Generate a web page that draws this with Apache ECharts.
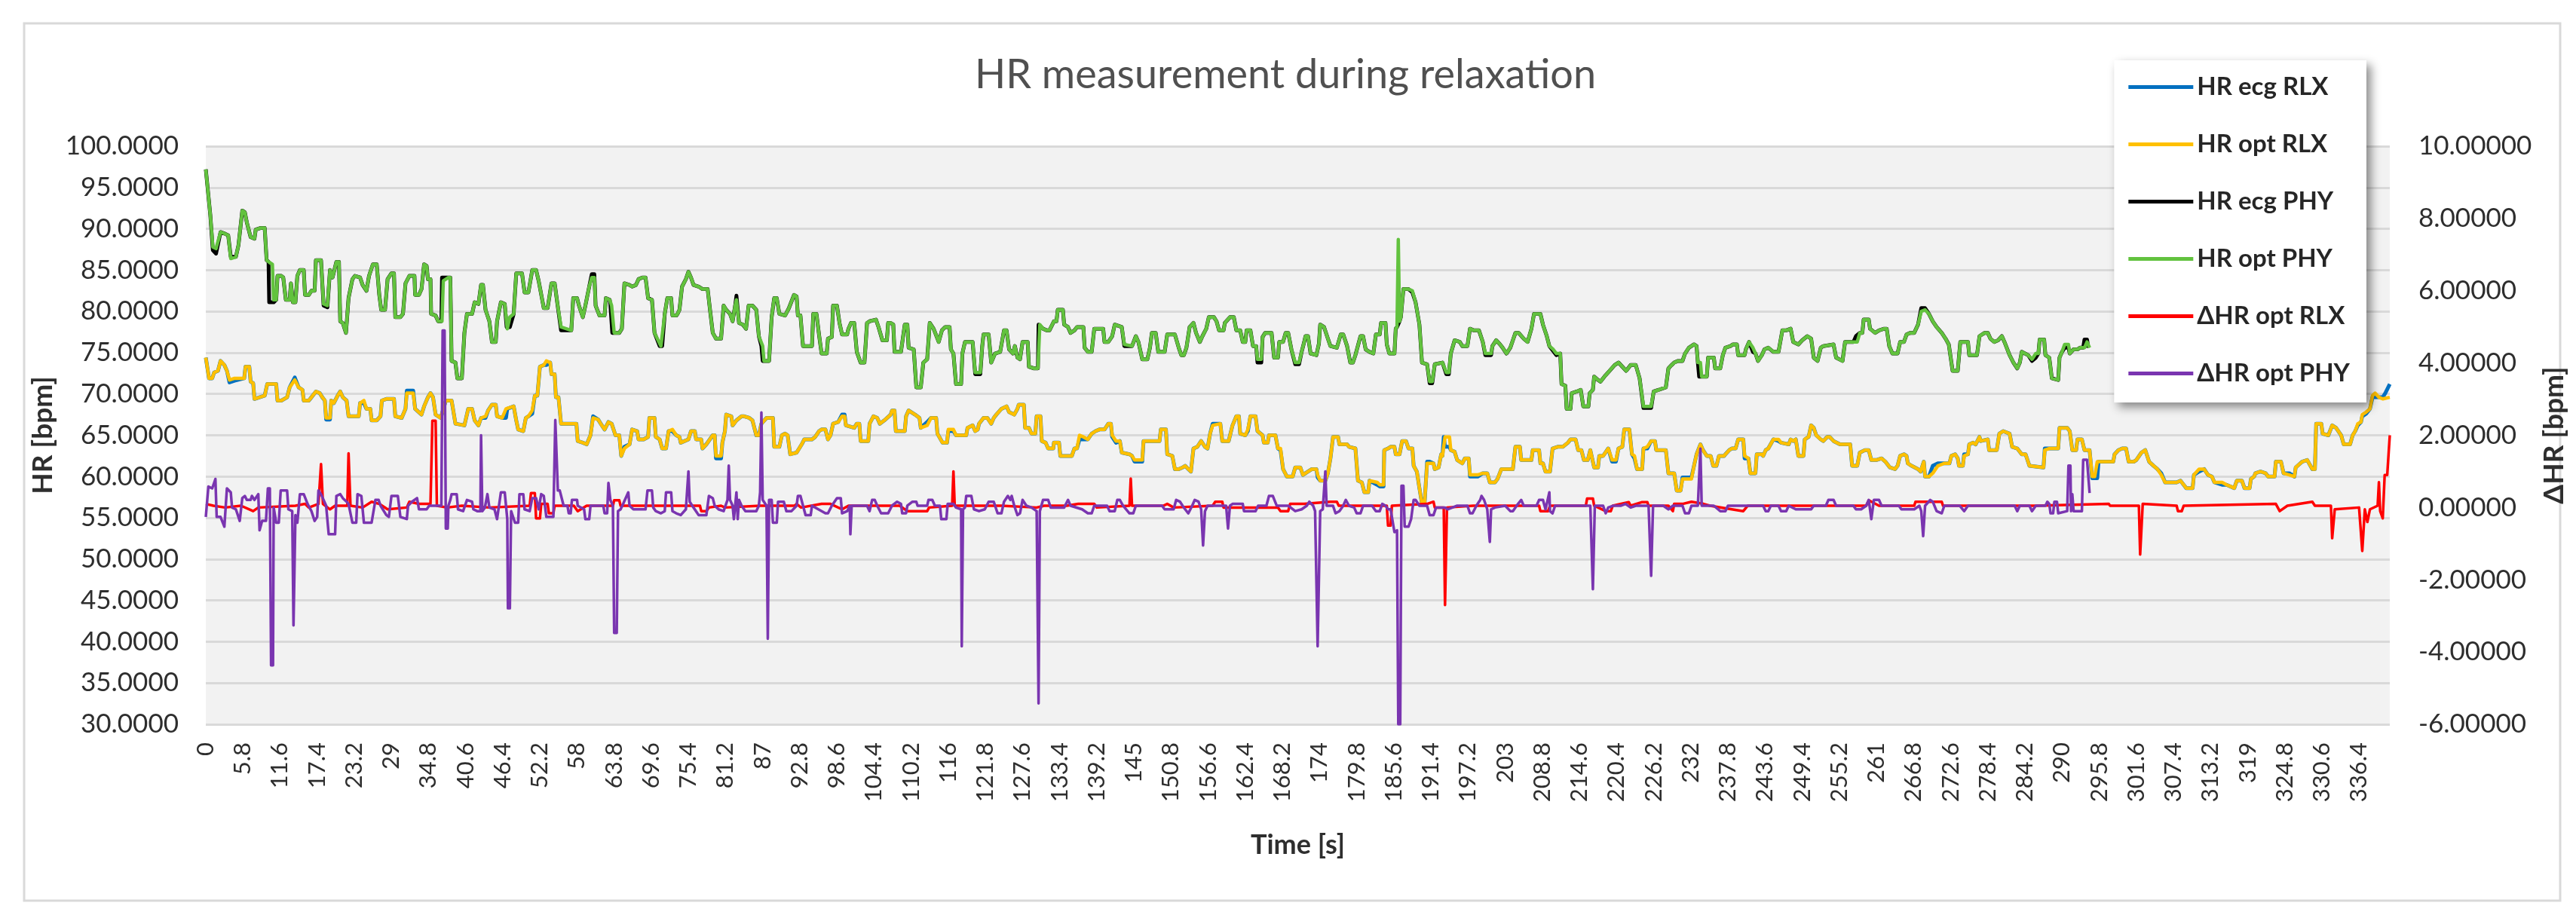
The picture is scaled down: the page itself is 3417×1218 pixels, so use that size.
<!DOCTYPE html>
<html><head><meta charset="utf-8">
<script src="https://cdn.jsdelivr.net/npm/echarts@6/dist/echarts.min.js"></script>
<style>html,body{margin:0;padding:0;background:#fff}#c{width:3417px;height:1218px}</style>
</head><body><div id="c"></div>
<script>
const chartTitle = 'HR measurement during relaxation';
const seriesNames = ['HR ecg RLX','HR opt RLX','HR ecg PHY','HR opt PHY','\u0394HR opt RLX','\u0394HR opt PHY'];
const seriesColors = ['#0070C0','#FFC000','#000000','#62C23E','#FF0000','#7A35B0'];
const xAxisTicks = {min:0, max:341.2, interval:5.8};
const leftAxisTicks = {min:30, max:100, interval:5};
const rightAxisTicks = {min:-6, max:10, interval:2};

// HR opt PHY  [time s, bpm]
const hrOptPhy = [[0,97.2],[0.7,91.7],[1.1,87.8],[1.6,87.6],[2.3,89.6],[3.0,89.4],[3.5,89.2],[3.9,86.4],[4.7,86.6],[5.1,88.0],[5.7,92.2],[6.1,92.0],[6.4,90.8],[7.0,89.0],[7.6,88.8],[7.8,89.9],[8.6,90.1],[9.2,90.1],[9.5,86.2],[10.0,85.9],[10.4,85.7],[10.6,81.4],[11.0,81.4],[11.2,84.3],[11.8,84.3],[12.1,84.1],[12.5,81.4],[13.1,81.4],[13.3,83.4],[13.6,81.1],[14.0,81.1],[14.3,84.3],[14.7,85.0],[15.3,85.0],[15.5,82.0],[16.1,82.0],[16.5,82.5],[17.0,82.5],[17.2,86.2],[18.0,86.2],[18.4,80.9],[19.0,80.7],[19.4,85.0],[19.8,84.1],[20.4,86.0],[20.8,86.0],[21.0,78.8],[21.4,78.6],[21.9,77.4],[22.1,77.4],[22.3,81.6],[22.9,83.9],[23.3,84.3],[24.1,84.1],[24.5,83.2],[25.1,82.5],[25.5,84.3],[26.1,85.7],[26.7,85.7],[27.1,82.0],[27.4,80.2],[28.0,80.2],[28.4,83.9],[29.0,84.6],[29.4,84.6],[29.6,79.3],[30.4,79.3],[30.8,79.7],[31.2,83.4],[31.8,84.3],[32.6,84.3],[32.7,82.0],[33.3,82.0],[33.7,82.7],[34.1,85.7],[34.5,85.5],[34.7,83.9],[35.1,83.9],[35.2,79.7],[35.9,79.5],[36.3,78.8],[36.9,78.8],[37.1,83.7],[37.9,84.1],[38.2,84.1],[38.4,74.0],[39.0,73.8],[39.3,71.9],[40.0,71.9],[40.4,77.4],[40.8,79.7],[41.6,79.7],[42.0,81.1],[42.6,80.9],[43.0,83.2],[43.3,83.2],[43.7,80.2],[44.3,78.8],[44.7,76.3],[45.3,76.3],[45.5,78.8],[46.1,81.1],[46.7,80.9],[47.1,77.9],[47.5,79.3],[48.1,79.7],[48.5,84.6],[49.4,84.6],[49.8,82.3],[50.4,82.3],[51.0,85.0],[51.6,85.0],[52.0,83.7],[52.8,80.4],[53.4,80.4],[54.0,83.4],[54.5,83.4],[54.9,81.1],[55.5,78.1],[57.1,77.7],[57.4,81.6],[58.0,81.6],[58.3,80.7],[58.9,79.3],[59.3,80.7],[59.9,83.0],[60.3,84.1],[60.7,84.1],[60.9,80.7],[61.5,79.5],[62.3,79.5],[62.5,81.6],[63.1,81.4],[63.4,80.7],[63.8,77.4],[64.6,77.4],[65.0,77.9],[65.4,83.4],[66.2,83.2],[66.6,83.0],[67.2,83.2],[67.6,83.9],[68.2,84.1],[68.7,84.1],[69.1,81.6],[69.7,81.4],[70.1,77.4],[71.1,75.8],[71.3,75.8],[71.7,79.7],[72.1,81.6],[72.7,81.6],[72.9,79.5],[73.5,79.5],[73.7,79.7],[74.0,80.2],[74.4,83.0],[75.0,83.9],[75.4,84.8],[75.8,84.1],[76.2,83.2],[77.0,83.0],[77.6,82.7],[78.4,82.7],[78.8,80.0],[79.2,77.4],[79.7,76.7],[80.5,76.7],[80.9,80.7],[81.3,80.2],[81.9,79.7],[82.3,78.8],[82.7,80.7],[82.9,81.4],[83.3,78.6],[83.9,78.4],[84.4,77.9],[84.8,80.7],[85.4,80.7],[86.0,80.2],[86.4,77.0],[87.0,75.8],[87.2,74.0],[88.0,74.0],[88.4,79.3],[88.8,81.6],[89.2,81.6],[89.6,79.7],[90.5,79.5],[91.1,80.4],[91.9,82.0],[92.3,81.8],[92.5,79.5],[92.9,79.5],[93.3,75.8],[94.7,75.8],[94.9,79.7],[95.4,79.7],[95.8,77.2],[96.2,74.9],[97.0,74.9],[97.2,76.7],[97.8,76.9],[98.0,80.7],[98.6,80.7],[99.0,78.6],[99.4,77.2],[100.2,77.2],[100.4,77.9],[100.8,78.6],[101.3,78.6],[101.7,75.1],[102.3,73.8],[102.9,73.8],[103.3,78.6],[103.7,78.8],[104.7,79.0],[105.1,78.1],[105.7,76.5],[106.4,76.5],[106.6,78.6],[107.0,78.6],[107.4,78.4],[107.6,75.1],[108.6,75.1],[109.2,78.4],[109.6,78.4],[109.8,75.6],[110.6,75.4],[111.0,70.8],[111.7,70.8],[112.1,73.8],[112.7,74.2],[113.1,78.6],[113.7,77.9],[114.5,76.3],[115.0,77.7],[115.5,78.1],[116.2,78.1],[116.4,75.4],[116.8,74.9],[117.2,71.2],[118.0,71.2],[118.2,74.9],[118.6,76.3],[119.8,76.3],[120.2,72.6],[121.0,72.6],[121.3,75.8],[121.5,77.2],[122.3,77.2],[122.7,73.8],[123.3,74.9],[124.1,75.1],[124.7,77.7],[125.1,77.7],[125.5,75.4],[126.1,74.9],[126.4,75.8],[126.8,74.4],[127.2,74.2],[127.6,76.3],[128.4,76.3],[128.6,73.3],[129.4,73.1],[130.0,73.1],[130.3,78.4],[130.8,77.9],[131.4,77.7],[131.8,77.7],[132.5,78.8],[132.9,78.8],[133.1,80.2],[133.9,80.2],[134.1,78.4],[134.7,78.1],[135.1,77.4],[135.7,77.7],[136.1,78.1],[137.1,78.1],[137.3,75.6],[137.8,75.1],[138.4,75.1],[138.8,77.9],[140.2,77.9],[140.4,76.3],[141.0,76.3],[141.6,77.0],[142.0,78.4],[143.1,78.1],[143.5,76.0],[144.7,75.8],[145.3,77.0],[145.7,76.3],[146.3,74.2],[147.1,74.2],[147.5,75.6],[147.8,77.4],[148.4,77.4],[148.8,75.1],[149.8,75.1],[150.2,77.2],[151.4,77.2],[152.0,75.6],[152.4,74.7],[152.8,74.7],[153.2,75.6],[153.7,78.1],[154.3,78.6],[154.7,77.4],[155.3,76.3],[155.7,77.0],[156.3,77.9],[156.7,79.3],[157.5,79.3],[157.9,78.8],[158.3,77.7],[159.0,77.7],[159.2,78.6],[160.0,79.3],[160.6,79.3],[161.0,77.7],[161.6,77.7],[162.0,76.3],[162.4,76.3],[162.6,77.7],[163.2,77.7],[163.6,75.8],[164.1,75.8],[164.3,74.2],[164.9,74.2],[165.1,76.9],[165.5,77.4],[166.5,77.4],[166.9,74.4],[167.5,74.4],[167.7,76.3],[168.3,76.3],[168.7,77.4],[169.1,77.4],[169.6,75.4],[170.2,73.8],[170.8,73.8],[171.2,75.1],[171.6,76.3],[171.8,77.0],[172.2,77.0],[172.6,74.9],[173.5,74.7],[173.9,76.1],[174.1,78.4],[174.7,78.1],[175.3,76.7],[175.7,75.8],[176.7,75.6],[177.3,77.2],[177.7,77.2],[178.3,75.8],[178.8,73.8],[179.2,73.8],[179.6,74.7],[180.4,77.0],[180.8,77.0],[181.2,75.4],[181.8,75.1],[182.4,74.9],[182.8,77.2],[183.4,77.2],[183.6,78.6],[184.3,78.6],[184.5,76.0],[184.9,74.9],[185.7,74.9],[185.9,77.9],[186.1,78.1],[186.3,88.7],[186.5,78.8],[186.7,79.3],[187.1,82.7],[187.9,82.7],[188.5,82.5],[189.0,81.1],[189.6,78.4],[190.0,73.8],[190.8,73.6],[191.2,71.5],[191.6,71.5],[192.0,73.6],[193.2,73.8],[193.8,72.6],[194.2,72.6],[194.5,74.9],[195.1,76.5],[195.9,76.3],[196.3,75.8],[197.1,75.8],[197.5,77.9],[198.1,77.7],[198.9,77.7],[199.5,76.3],[199.9,74.9],[200.8,74.9],[201.0,75.8],[201.6,76.5],[202.2,76.0],[202.6,75.6],[203.2,74.9],[203.8,75.6],[204.2,76.5],[204.6,77.4],[205.1,77.4],[205.9,76.7],[206.5,76.3],[207.1,77.9],[207.5,79.7],[208.5,79.7],[208.9,78.4],[209.5,77.0],[209.9,75.8],[210.5,75.4],[211.0,74.9],[211.6,74.9],[211.8,71.2],[212.4,71.0],[212.6,68.2],[213.2,68.2],[213.4,70.1],[214.2,70.3],[214.8,70.5],[215.2,68.5],[216.0,68.5],[216.2,70.1],[216.7,70.5],[216.9,72.1],[217.5,71.7],[217.9,71.5],[218.5,72.1],[219.3,72.8],[220.1,73.5],[220.7,73.8],[221.3,73.3],[221.9,72.8],[222.6,73.5],[223.4,73.5],[224.0,71.9],[224.6,68.5],[225.8,68.5],[226.2,70.3],[227.0,70.5],[228.1,70.8],[228.5,73.1],[229.0,73.5],[229.4,73.8],[230.0,74.0],[230.7,74.0],[231.1,74.9],[231.7,75.6],[232.5,76.0],[232.9,75.8],[233.1,73.8],[233.5,73.8],[233.7,72.1],[234.5,72.1],[234.7,74.4],[235.6,74.4],[235.8,73.1],[236.6,73.1],[237.0,74.7],[237.4,75.6],[238.2,75.8],[238.6,76.0],[239.2,76.0],[239.4,74.7],[240.4,74.7],[240.6,75.4],[241.1,76.3],[241.7,75.6],[242.1,74.9],[242.5,74.0],[243.1,74.7],[243.5,75.4],[244.1,75.6],[244.9,75.1],[245.7,75.1],[246.3,77.7],[246.9,77.7],[247.6,77.9],[248.0,76.3],[248.8,76.0],[249.4,76.5],[250.2,77.0],[250.8,76.7],[251.2,74.4],[251.8,74.0],[252.3,75.6],[252.7,75.8],[254.3,76.0],[254.7,74.4],[255.7,74.0],[256.1,76.3],[258.0,76.3],[258.4,77.4],[258.8,77.4],[259.0,79.0],[259.8,79.0],[260.0,77.9],[260.8,77.4],[261.4,77.7],[262.2,77.9],[262.6,77.9],[263.0,75.8],[263.5,74.9],[264.3,74.9],[264.7,76.3],[265.3,76.3],[265.7,77.2],[266.3,77.4],[266.9,77.4],[267.5,78.4],[268.0,80.0],[268.6,80.2],[269.2,79.7],[269.8,78.8],[270.4,78.1],[271.2,77.4],[271.8,76.7],[272.3,76.0],[272.9,72.8],[273.7,72.8],[274.1,76.3],[275.3,76.3],[275.5,74.7],[276.7,74.7],[277.1,77.0],[277.9,77.4],[278.4,77.4],[278.8,76.7],[279.4,76.3],[280.0,76.5],[280.6,77.0],[281.0,76.3],[281.8,74.7],[282.4,73.8],[283.0,73.1],[283.4,73.8],[283.7,75.1],[284.7,74.7],[285.3,74.2],[285.9,74.9],[286.3,74.9],[286.5,76.6],[287.2,76.6],[287.4,74.7],[288.0,74.4],[288.4,71.9],[289.4,71.7],[289.6,74.4],[290.0,75.1],[290.4,76.0],[291.0,76.0],[291.2,74.9],[291.8,75.4],[292.4,75.4],[292.8,75.6],[293.5,75.6],[293.9,76.3],[294.3,75.6]];

// HR ecg PHY [time s, bpm]
const hrEcgPhy = [[0,97.2],[0.7,91.7],[1.1,87.4],[1.6,87.0],[2.3,89.6],[3.0,89.4],[3.5,89.2],[3.9,86.6],[4.7,86.6],[5.1,88.0],[5.7,92.2],[6.1,92.0],[6.4,90.8],[7.0,89.0],[7.6,88.8],[7.8,89.9],[8.6,90.1],[9.2,90.1],[9.5,86.2],[9.8,86.0],[9.9,81.1],[10.6,81.1],[11.0,81.4],[11.2,84.3],[11.8,84.3],[12.1,84.1],[12.5,81.4],[13.1,81.4],[13.3,83.4],[13.6,81.1],[14.0,81.1],[14.3,84.3],[14.7,85.0],[15.3,85.0],[15.5,82.0],[16.1,82.0],[16.5,82.5],[17.0,82.5],[17.2,86.2],[18.0,86.2],[18.4,80.7],[19.0,80.5],[19.4,85.0],[19.8,84.1],[20.4,86.0],[20.8,86.0],[21.0,78.8],[21.4,78.6],[21.9,77.4],[22.1,77.4],[22.3,81.6],[22.9,83.9],[23.3,84.3],[24.1,84.1],[24.5,83.2],[25.1,82.5],[25.5,84.3],[26.1,85.7],[26.7,85.7],[27.1,82.0],[27.4,80.2],[28.0,80.2],[28.4,83.9],[29.0,84.6],[29.4,84.6],[29.6,79.3],[30.4,79.3],[30.8,79.7],[31.2,83.4],[31.8,84.3],[32.6,84.3],[32.7,82.0],[33.3,82.0],[33.7,82.7],[34.1,85.7],[34.5,85.5],[34.7,83.9],[35.1,83.9],[35.2,79.7],[35.9,79.5],[36.3,78.8],[36.8,78.8],[36.9,84.1],[37.9,84.1],[38.2,84.1],[38.4,74.0],[39.0,73.8],[39.3,71.9],[40.0,71.9],[40.4,77.4],[40.8,79.7],[41.6,79.7],[42.0,81.1],[42.6,80.9],[43.0,83.2],[43.3,83.2],[43.7,80.2],[44.3,78.8],[44.7,76.3],[45.3,76.3],[45.5,78.8],[46.1,81.1],[46.7,80.9],[47.0,78.1],[47.5,78.1],[48.1,79.7],[48.5,84.6],[49.4,84.6],[49.8,82.3],[50.4,82.3],[51.0,85.0],[51.6,85.0],[52.0,83.7],[52.8,80.4],[53.4,80.4],[54.0,83.4],[54.5,83.4],[54.9,81.1],[55.5,77.7],[57.1,77.7],[57.4,81.6],[58.0,81.6],[58.3,80.7],[58.9,79.3],[59.3,80.7],[59.9,83.0],[60.3,84.5],[60.7,84.5],[60.9,80.7],[61.5,79.5],[62.3,79.5],[62.5,81.6],[63.1,81.4],[63.2,80.9],[63.5,77.4],[64.6,77.4],[65.0,77.9],[65.4,83.4],[66.2,83.2],[66.6,83.0],[67.2,83.2],[67.6,83.9],[68.2,84.1],[68.7,84.1],[69.1,81.6],[69.7,81.4],[70.1,77.4],[70.9,75.8],[71.3,75.8],[71.7,79.7],[72.1,81.6],[72.7,81.6],[72.9,79.5],[73.5,79.5],[73.7,79.7],[74.0,80.2],[74.4,83.0],[75.0,83.9],[75.4,84.8],[75.8,84.1],[76.2,83.2],[77.0,83.0],[77.6,82.7],[78.4,82.7],[78.8,80.0],[79.2,77.4],[79.7,76.7],[80.5,76.7],[80.9,80.7],[81.3,80.2],[81.9,79.7],[82.3,78.8],[82.7,80.7],[82.9,81.9],[83.3,78.6],[83.9,78.4],[84.4,77.9],[84.8,80.7],[85.4,80.7],[86.0,80.2],[86.4,77.0],[86.8,75.8],[87.0,74.0],[88.0,74.0],[88.4,79.3],[88.8,81.6],[89.2,81.6],[89.6,79.7],[90.5,79.5],[91.1,80.4],[91.9,82.0],[92.3,81.8],[92.5,79.5],[92.9,79.5],[93.3,75.8],[94.7,75.8],[94.9,79.7],[95.4,79.7],[95.8,77.2],[96.2,74.9],[97.0,74.9],[97.2,76.7],[97.8,76.9],[98.0,80.7],[98.6,80.7],[99.0,78.6],[99.4,77.2],[100.2,77.2],[100.4,77.9],[100.8,78.6],[101.3,78.6],[101.7,75.1],[102.3,73.8],[102.9,73.8],[103.3,78.6],[103.7,78.8],[104.7,79.0],[105.1,78.1],[105.7,76.5],[106.4,76.5],[106.6,78.6],[107.0,78.6],[107.4,78.4],[107.6,75.1],[108.6,75.1],[109.2,78.4],[109.6,78.4],[109.8,75.6],[110.6,75.4],[111.0,70.8],[111.7,70.8],[112.1,73.8],[112.7,74.2],[113.1,78.6],[113.7,77.9],[114.5,76.3],[115.0,77.7],[115.5,78.1],[116.2,78.1],[116.4,75.4],[116.8,74.9],[117.2,71.2],[118.0,71.2],[118.2,74.9],[118.6,76.3],[119.8,76.3],[120.2,72.4],[121.0,72.4],[121.3,75.8],[121.5,77.2],[122.3,77.2],[122.7,73.8],[123.3,74.9],[124.1,75.1],[124.7,77.7],[125.1,77.7],[125.5,75.4],[126.1,74.9],[126.4,75.8],[126.8,74.4],[127.2,74.2],[127.6,76.3],[128.4,76.3],[128.6,73.3],[129.4,73.1],[130.0,73.1],[130.1,78.4],[130.8,77.9],[131.4,77.7],[131.8,77.7],[132.5,78.8],[132.9,78.8],[133.1,80.2],[133.9,80.2],[134.1,78.4],[134.7,78.1],[135.1,77.4],[135.7,77.7],[136.1,78.1],[137.1,78.1],[137.3,75.6],[137.8,75.1],[138.4,75.1],[138.8,77.9],[140.2,77.9],[140.4,76.3],[141.0,76.3],[141.6,77.0],[142.0,78.4],[143.1,78.1],[143.5,75.8],[144.7,75.8],[145.3,77.0],[145.7,76.3],[146.3,74.2],[147.1,74.2],[147.5,75.6],[147.8,77.4],[148.4,77.4],[148.8,75.1],[149.8,75.1],[150.2,77.2],[151.4,77.2],[152.0,75.6],[152.4,74.7],[152.8,74.7],[153.2,75.6],[153.7,78.1],[154.3,78.6],[154.7,77.4],[155.3,76.3],[155.7,77.0],[156.3,77.9],[156.7,79.3],[157.5,79.3],[157.9,78.8],[158.3,77.7],[159.0,77.7],[159.2,78.6],[160.0,79.3],[160.6,79.3],[161.0,77.7],[161.6,77.7],[162.0,76.3],[162.4,76.3],[162.6,77.7],[163.2,77.7],[163.6,75.8],[164.1,75.8],[164.3,73.8],[164.9,73.8],[165.1,76.9],[165.5,77.4],[166.5,77.4],[166.9,74.4],[167.5,74.4],[167.7,76.3],[168.3,76.3],[168.7,77.4],[169.1,77.4],[169.6,75.4],[170.2,73.6],[170.8,73.6],[171.2,75.1],[171.6,76.3],[171.8,77.0],[172.2,77.0],[172.6,74.9],[173.5,74.7],[173.9,76.1],[174.1,78.4],[174.7,78.1],[175.3,76.7],[175.7,75.8],[176.7,75.6],[177.3,77.2],[177.7,77.2],[178.3,75.8],[178.8,73.8],[179.2,73.8],[179.6,74.7],[180.4,77.0],[180.8,77.0],[181.2,75.4],[181.8,75.1],[182.4,74.9],[182.8,77.2],[183.4,77.2],[183.6,78.6],[184.3,78.6],[184.5,76.0],[184.9,74.9],[185.7,74.9],[185.9,77.9],[186.1,78.1],[186.5,78.8],[186.7,79.3],[187.1,82.7],[187.9,82.7],[188.5,82.3],[189.0,81.1],[189.6,78.4],[190.0,73.8],[190.8,73.6],[191.2,71.3],[191.6,71.3],[192.0,73.6],[193.2,73.8],[193.8,72.4],[194.2,72.4],[194.5,74.9],[195.1,76.5],[195.9,76.3],[196.3,75.8],[197.1,75.8],[197.5,77.9],[198.1,77.7],[198.9,77.7],[199.5,76.3],[199.9,74.7],[200.8,74.7],[201.0,75.8],[201.6,76.5],[202.2,76.0],[202.6,75.6],[203.2,74.9],[203.8,75.6],[204.2,76.5],[204.6,77.4],[205.1,77.4],[205.9,76.7],[206.5,76.3],[207.1,77.9],[207.5,79.7],[208.5,79.7],[208.9,78.4],[209.5,77.0],[209.9,75.8],[210.5,75.2],[211.0,74.7],[211.6,74.9],[211.8,71.2],[212.4,71.0],[212.6,68.2],[213.2,68.2],[213.4,70.1],[214.2,70.3],[214.8,70.5],[215.2,68.5],[216.0,68.5],[216.2,70.1],[216.7,70.5],[216.9,72.1],[217.5,71.7],[217.9,71.5],[218.5,72.1],[219.3,72.8],[220.1,73.5],[220.7,73.8],[221.3,73.3],[221.9,72.8],[222.6,73.5],[223.4,73.5],[224.0,71.9],[224.6,68.3],[225.8,68.3],[226.2,70.3],[227.0,70.5],[228.1,70.8],[228.5,73.1],[229.0,73.5],[229.4,73.8],[230.0,74.0],[230.7,74.0],[231.1,74.9],[231.7,75.6],[232.5,76.0],[232.9,75.8],[233.1,73.8],[233.3,72.1],[234.5,72.1],[234.7,74.4],[235.6,74.4],[235.8,73.1],[236.6,73.1],[237.0,74.7],[237.4,75.6],[238.2,75.8],[238.6,76.0],[239.2,76.0],[239.4,74.7],[240.4,74.7],[240.6,75.4],[241.1,76.3],[241.7,75.1],[242.1,74.9],[242.5,74.0],[243.1,74.7],[243.5,75.4],[244.1,75.6],[244.9,75.1],[245.7,75.1],[246.3,77.7],[246.9,77.7],[247.6,77.9],[248.0,76.3],[248.8,76.0],[249.4,76.5],[250.2,77.0],[250.8,76.7],[251.2,74.4],[251.8,74.0],[252.3,75.6],[252.7,75.8],[254.3,76.0],[254.7,74.4],[255.7,74.0],[256.1,76.3],[257.4,76.3],[257.8,77.0],[258.4,77.4],[258.8,77.4],[259.0,79.0],[259.8,79.0],[260.0,77.9],[260.8,77.4],[261.4,77.7],[262.2,77.9],[262.6,77.9],[263.0,75.8],[263.5,74.9],[264.3,74.9],[264.7,76.3],[265.3,76.3],[265.7,77.2],[266.3,77.4],[266.9,77.4],[267.5,78.4],[268.0,80.4],[268.6,80.4],[269.2,79.7],[269.8,78.8],[270.4,78.1],[271.2,77.4],[271.8,76.7],[272.3,76.0],[272.9,72.8],[273.7,72.8],[274.1,76.3],[275.3,76.3],[275.5,74.7],[276.7,74.7],[277.1,77.0],[277.9,77.4],[278.4,77.4],[278.8,76.7],[279.4,76.3],[280.0,76.5],[280.6,77.0],[281.0,76.3],[281.8,74.7],[282.4,73.8],[283.0,73.1],[283.4,73.8],[283.7,75.1],[284.7,74.7],[285.3,74.0],[285.9,74.4],[286.3,74.9],[286.5,76.6],[287.2,76.6],[287.4,74.7],[288.0,74.4],[288.4,71.9],[289.4,71.7],[289.6,74.4],[290.0,75.1],[290.4,75.6],[291.0,75.6],[291.2,74.9],[291.8,75.4],[292.4,75.4],[292.8,75.6],[293.3,75.6],[293.5,76.6],[293.9,76.6],[294.1,75.6]];

// HR opt RLX [time s, bpm]
const hrOptRlx = [[0,74.4],[0.5,71.9],[1.0,71.9],[1.3,72.6],[1.9,72.8],[2.3,74.0],[2.9,73.5],[3.3,72.8],[3.7,71.7],[4.5,71.9],[6.0,71.9],[6.2,73.3],[6.8,73.3],[7.0,71.5],[7.4,71.3],[7.6,69.4],[8.4,69.6],[9.2,69.8],[9.6,71.2],[11.0,71.2],[11.2,69.2],[11.8,69.2],[12.7,69.6],[13.1,70.8],[13.9,71.7],[14.5,70.8],[15.1,70.5],[15.3,69.2],[16.1,69.2],[16.5,69.6],[17.2,70.3],[17.8,70.1],[18.2,69.6],[18.6,69.2],[18.8,67.1],[19.4,67.1],[19.6,69.2],[20.0,68.9],[20.6,69.8],[21.0,70.3],[21.4,69.6],[22.0,69.2],[22.3,67.3],[23.9,67.3],[24.1,68.9],[24.7,69.2],[25.1,68.2],[25.7,68.2],[25.9,66.8],[26.7,66.8],[27.3,67.3],[27.5,69.2],[28.2,69.4],[29.4,69.4],[29.6,67.3],[30.6,67.1],[31.2,68.2],[31.4,70.1],[32.4,70.1],[32.7,68.2],[33.7,67.5],[34.1,68.5],[34.7,69.6],[35.1,70.1],[35.5,69.6],[35.9,67.5],[36.7,67.1],[37.5,69.2],[38.4,69.2],[39.0,66.4],[40.4,66.2],[41.0,68.2],[41.6,68.2],[42.0,66.8],[42.6,66.2],[43.0,67.1],[43.7,67.3],[44.1,68.0],[44.7,68.7],[45.3,68.7],[45.5,67.3],[46.3,67.1],[46.9,68.2],[48.1,68.5],[48.5,66.8],[48.8,65.7],[49.6,65.5],[50.0,67.1],[50.4,67.3],[51.0,68.0],[51.4,69.8],[51.8,69.8],[52.2,73.3],[52.8,73.5],[53.2,74.0],[53.8,73.8],[54.0,72.4],[54.5,72.4],[54.7,69.6],[55.1,69.6],[55.5,66.4],[57.9,66.4],[58.1,64.3],[58.9,64.1],[59.5,63.9],[60.1,65.0],[60.5,67.1],[61.3,66.9],[61.7,66.4],[62.3,65.7],[62.9,66.6],[63.4,66.4],[64.0,65.0],[64.6,65.0],[64.9,62.5],[65.4,63.4],[66.2,63.9],[66.6,65.7],[67.4,65.5],[67.6,64.5],[68.4,64.5],[69.1,64.8],[69.3,67.1],[70.1,67.1],[70.3,64.8],[70.9,64.5],[71.3,63.4],[71.9,63.4],[72.3,65.5],[72.9,65.7],[73.5,65.0],[74.0,64.8],[74.2,64.1],[74.8,64.3],[75.4,64.5],[75.8,65.5],[76.4,65.5],[76.6,64.5],[77.4,64.5],[77.6,63.4],[78.2,63.9],[79.2,65.0],[79.5,65.0],[79.7,62.5],[80.5,62.5],[80.7,64.1],[81.1,65.5],[81.3,67.5],[82.1,67.3],[82.3,66.2],[82.9,66.8],[83.7,67.3],[84.1,67.3],[84.9,67.1],[85.4,66.8],[86.0,65.0],[86.4,65.0],[86.8,66.4],[87.6,67.1],[88.6,67.1],[88.8,63.6],[89.6,63.6],[90.0,65.0],[90.5,65.2],[90.9,65.0],[91.3,62.7],[92.3,62.9],[93.1,63.9],[93.5,64.5],[94.7,64.5],[95.2,64.8],[95.8,65.5],[96.2,65.7],[96.8,65.7],[97.2,64.5],[97.6,65.0],[98.0,66.4],[98.8,66.6],[99.4,67.3],[99.8,67.3],[100.0,66.2],[101.3,65.9],[101.7,66.4],[102.1,66.4],[102.3,64.3],[103.5,64.3],[103.7,66.4],[104.3,67.3],[104.9,67.1],[105.3,66.4],[106.0,66.8],[107.0,67.5],[107.2,68.0],[107.6,68.0],[107.8,65.5],[109.2,65.5],[109.4,67.3],[109.8,68.0],[110.8,67.5],[111.5,67.1],[111.7,65.9],[112.7,66.2],[113.3,67.1],[114.1,67.1],[114.3,65.2],[115.1,64.1],[115.8,64.1],[116.0,65.7],[116.8,65.7],[117.2,65.0],[118.8,65.0],[119.0,65.9],[119.8,66.2],[120.2,65.5],[120.6,65.7],[120.8,66.4],[121.5,67.1],[122.1,67.1],[122.7,66.4],[123.1,67.1],[123.5,67.5],[124.3,68.2],[125.1,68.5],[125.5,67.8],[126.3,67.5],[126.8,68.2],[127.0,68.7],[127.8,68.7],[128.0,65.9],[128.6,65.9],[129.0,65.2],[129.6,65.2],[129.8,67.3],[130.4,67.3],[130.6,64.3],[131.2,64.1],[131.6,63.4],[132.4,63.4],[132.5,64.1],[133.3,64.1],[133.5,62.5],[135.3,62.5],[135.7,63.4],[136.1,63.4],[136.5,65.0],[137.1,64.8],[137.8,64.5],[138.4,65.2],[139.0,65.5],[139.6,65.7],[140.4,65.7],[141.0,66.4],[141.4,66.4],[141.6,65.0],[142.2,64.3],[142.8,64.3],[143.1,62.9],[144.3,62.7],[144.7,62.5],[145.1,62.0],[146.3,62.0],[146.5,64.3],[149.0,64.3],[149.2,65.7],[150.0,65.7],[150.2,62.7],[151.0,62.5],[151.4,60.9],[152.0,60.9],[152.6,61.1],[153.0,61.3],[153.5,60.9],[153.9,60.6],[154.3,63.4],[154.9,63.6],[155.5,64.3],[156.1,63.6],[156.5,63.4],[156.9,65.2],[157.3,66.2],[158.5,66.4],[158.8,64.3],[159.8,64.3],[160.4,66.2],[161.0,67.3],[161.4,67.3],[161.6,65.2],[162.4,65.0],[162.8,65.7],[163.2,67.3],[164.0,67.3],[164.3,65.5],[165.1,65.0],[165.3,64.1],[165.9,64.1],[166.1,65.0],[167.1,65.0],[167.5,63.4],[167.9,63.4],[168.3,60.9],[168.9,60.0],[169.8,60.0],[170.2,61.1],[171.0,61.1],[171.4,60.2],[172.2,60.6],[172.8,60.9],[173.5,60.9],[173.7,60.2],[174.1,59.5],[174.9,59.5],[175.3,60.4],[175.7,62.2],[176.1,64.8],[176.9,64.8],[177.1,63.9],[178.3,63.9],[178.6,63.6],[179.6,63.4],[180.0,59.5],[180.6,59.3],[181.0,58.1],[181.6,58.1],[181.8,59.5],[183.0,59.3],[183.4,59.0],[184.0,59.0],[184.1,63.2],[184.7,63.4],[185.1,63.6],[185.7,63.6],[185.9,62.7],[186.5,62.7],[186.9,64.3],[187.5,64.3],[187.9,63.4],[188.5,63.4],[188.7,61.3],[189.2,60.6],[189.6,58.6],[190.0,56.7],[190.4,56.7],[190.8,61.6],[191.8,61.6],[192.0,60.9],[192.6,61.1],[193.0,62.7],[193.2,62.5],[193.6,64.8],[194.3,64.8],[194.5,63.2],[195.1,63.0],[195.5,62.0],[196.3,61.6],[196.7,62.2],[197.3,62.2],[197.5,60.2],[198.7,60.2],[199.5,60.4],[200.2,60.4],[200.6,59.3],[201.4,59.3],[201.8,59.7],[202.4,60.9],[204.2,60.9],[204.6,63.6],[205.3,63.6],[205.5,62.0],[207.1,62.0],[207.3,63.2],[208.3,63.2],[208.5,61.6],[208.9,61.6],[209.3,60.6],[210.0,60.6],[210.4,63.4],[211.2,63.6],[212.0,63.6],[212.8,64.1],[213.2,64.5],[214.0,64.5],[214.4,63.2],[214.9,63.2],[215.3,62.0],[215.9,62.0],[216.3,63.2],[216.9,61.1],[217.5,61.1],[217.7,62.5],[218.3,62.5],[219.1,63.4],[219.7,62.0],[220.3,62.0],[220.7,63.4],[221.3,63.6],[221.6,65.7],[222.4,65.7],[222.8,62.7],[223.2,62.5],[223.6,60.9],[224.4,60.9],[224.6,63.4],[225.2,63.6],[225.8,64.3],[226.4,64.3],[226.6,63.2],[228.1,63.2],[228.5,60.4],[229.4,60.4],[229.8,58.3],[230.4,58.3],[230.7,59.7],[232.1,59.7],[232.5,61.3],[232.9,62.7],[233.5,63.9],[233.9,63.2],[234.5,62.5],[235.1,62.5],[235.5,61.3],[236.0,61.3],[236.4,62.5],[237.2,62.5],[237.4,62.7],[238.0,63.2],[238.4,63.4],[239.0,63.4],[239.4,64.5],[240.2,64.5],[240.4,62.5],[241.0,62.2],[241.3,60.4],[242.1,60.4],[242.3,62.7],[243.1,62.7],[243.3,62.5],[243.7,63.2],[244.1,63.4],[244.9,64.5],[245.7,64.5],[246.1,64.1],[247.3,63.9],[247.6,64.5],[248.0,64.3],[248.4,64.5],[248.8,62.5],[249.6,62.5],[249.8,64.5],[250.4,64.8],[250.8,66.2],[251.2,65.9],[251.6,65.0],[252.3,64.5],[252.7,64.3],[253.3,64.8],[253.7,64.8],[254.3,64.3],[255.3,63.9],[256.9,63.9],[257.2,61.3],[258.0,61.3],[258.4,62.9],[259.2,63.2],[259.8,63.2],[260.2,62.0],[261.0,62.0],[261.8,62.2],[262.4,61.8],[263.1,61.1],[263.9,60.9],[264.3,61.3],[264.7,62.5],[265.3,62.7],[265.7,62.5],[265.9,61.6],[266.5,61.3],[267.5,60.9],[267.9,60.6],[268.4,61.8],[268.6,60.0],[269.2,60.0],[269.8,60.4],[270.6,61.3],[271.6,61.6],[272.4,61.6],[272.7,62.5],[273.3,62.7],[273.7,62.2],[273.9,61.3],[274.5,61.3],[274.7,62.5],[275.3,62.7],[275.5,63.9],[276.1,64.1],[276.5,63.9],[277.1,64.8],[277.3,64.3],[278.4,64.5],[278.6,63.2],[279.8,63.2],[280.2,65.2],[280.8,65.5],[281.8,65.2],[282.2,63.6],[283.0,63.4],[283.7,62.7],[284.3,62.7],[284.9,61.3],[287.1,61.1],[287.3,63.2],[288.0,63.4],[289.4,63.4],[289.6,65.9],[290.8,65.9],[291.2,65.5],[291.6,63.2],[292.2,63.2],[292.4,64.5],[293.1,64.5],[293.5,63.2],[294.3,63.2],[294.7,60.0],[295.1,60.0],[295.5,61.8],[298.0,61.8],[298.2,62.7],[298.8,63.2],[299.4,63.4],[300.0,63.4],[300.4,61.8],[301.2,61.8],[301.6,62.0],[302.4,62.9],[303.0,63.2],[303.6,61.8],[304.3,61.3],[304.9,60.9],[305.5,60.2],[306.1,59.3],[307.9,59.3],[308.5,59.5],[309.0,59.0],[309.4,58.6],[310.4,58.6],[310.6,60.2],[311.4,60.9],[312.2,60.9],[312.8,60.2],[313.4,60.0],[313.8,59.3],[315.0,59.3],[315.7,59.0],[316.3,58.8],[316.9,58.6],[317.3,59.5],[318.1,59.5],[318.5,58.6],[319.3,58.6],[319.5,59.7],[320.0,60.0],[320.2,60.4],[321.0,60.6],[321.8,60.4],[322.2,60.0],[323.2,60.0],[323.4,61.8],[324.2,61.8],[324.6,60.4],[325.5,60.2],[326.3,60.0],[326.5,61.1],[327.5,61.8],[328.3,62.0],[329.1,60.9],[329.5,60.9],[329.7,66.4],[330.5,66.4],[330.7,65.2],[331.6,65.0],[332.2,66.2],[332.8,65.9],[333.6,65.0],[334.0,63.9],[335.0,63.9],[335.4,65.0],[335.8,65.5],[336.2,66.4],[336.7,66.6],[336.9,67.5],[337.5,67.8],[338.1,68.2],[338.5,69.8],[338.9,70.1],[339.5,69.6],[340.1,69.4],[341.2,69.6]];

// HR ecg RLX [time s, bpm]
const hrEcgRlx = [[0,74.4],[0.5,71.9],[1.0,71.9],[1.3,72.6],[1.9,72.8],[2.3,74.0],[2.9,73.5],[3.3,72.8],[3.7,71.4],[4.5,71.6],[6.0,71.9],[6.2,73.3],[6.8,73.3],[7.0,71.5],[7.4,71.3],[7.6,69.4],[8.4,69.6],[9.2,69.8],[9.6,71.2],[11.0,71.2],[11.2,69.2],[11.8,69.2],[12.7,69.6],[13.1,70.8],[13.9,72.0],[14.5,70.8],[15.1,70.5],[15.3,69.2],[16.1,69.2],[16.5,69.6],[17.2,70.3],[17.8,70.1],[18.2,69.6],[18.6,69.2],[18.8,66.9],[19.4,66.9],[19.6,69.2],[20.0,68.9],[20.6,69.8],[21.0,70.3],[21.4,69.6],[22.0,69.2],[22.3,67.3],[23.9,67.3],[24.1,68.9],[24.7,68.9],[25.1,68.2],[25.7,68.2],[25.9,66.8],[26.7,66.8],[27.3,67.3],[27.5,69.2],[28.2,69.4],[29.4,69.4],[29.6,67.3],[30.6,67.1],[31.2,68.2],[31.4,70.4],[32.4,70.4],[32.7,68.2],[33.7,67.5],[34.1,68.5],[34.7,69.6],[35.1,70.1],[35.5,69.6],[35.9,67.5],[36.7,67.1],[37.5,69.2],[38.4,69.2],[39.0,66.4],[40.4,66.2],[41.0,68.2],[41.6,68.2],[42.0,66.8],[42.6,66.2],[43.0,67.1],[43.7,67.1],[44.1,68.0],[44.7,68.7],[45.3,68.7],[45.5,67.3],[46.3,67.1],[46.9,67.1],[47.1,68.2],[48.1,68.5],[48.5,66.8],[48.8,65.7],[49.6,65.5],[50.0,67.1],[50.4,67.3],[51.0,67.6],[51.4,69.8],[51.8,69.8],[52.2,73.3],[52.8,73.5],[53.2,73.5],[53.8,73.8],[54.0,72.4],[54.5,72.4],[54.7,69.6],[55.1,69.6],[55.5,66.4],[57.9,66.4],[58.1,64.3],[58.9,64.1],[59.5,63.9],[60.1,65.0],[60.5,67.3],[61.3,66.9],[61.7,66.4],[62.3,65.7],[62.9,66.6],[63.4,66.4],[64.0,65.0],[64.6,65.0],[64.9,62.5],[65.4,63.6],[66.2,63.9],[66.6,65.7],[67.4,65.5],[67.6,64.5],[68.4,64.5],[69.1,64.8],[69.3,67.1],[70.1,67.1],[70.3,64.8],[70.9,64.5],[71.3,63.4],[71.9,63.4],[72.3,65.5],[72.9,65.5],[73.5,65.0],[74.0,64.8],[74.2,64.1],[74.8,64.3],[75.4,64.5],[75.8,65.5],[76.4,65.5],[76.6,64.5],[77.4,64.5],[77.6,63.4],[78.2,63.9],[79.2,65.0],[79.5,65.0],[79.7,62.2],[80.5,62.2],[80.7,64.1],[81.1,65.5],[81.3,67.5],[82.1,67.3],[82.3,66.2],[82.9,66.8],[83.7,67.3],[84.1,67.3],[84.9,67.1],[85.4,66.8],[86.0,65.0],[86.4,65.0],[86.8,66.4],[87.6,67.1],[88.6,67.1],[88.8,63.6],[89.6,63.6],[90.0,65.0],[90.5,65.2],[90.9,65.0],[91.3,62.7],[92.3,62.9],[93.1,63.9],[93.5,64.5],[94.7,64.5],[95.2,64.8],[95.8,65.5],[96.2,65.7],[96.8,65.7],[97.2,64.5],[97.6,65.0],[98.0,66.4],[98.8,66.6],[99.4,67.5],[99.8,67.5],[100.0,66.2],[101.3,65.9],[101.7,66.4],[102.1,66.4],[102.3,64.3],[103.5,64.3],[103.7,66.4],[104.3,67.3],[104.9,67.1],[105.3,66.4],[106.0,66.8],[107.0,67.5],[107.2,68.0],[107.6,68.0],[107.8,65.5],[109.2,65.5],[109.4,67.3],[109.8,68.0],[110.8,67.5],[111.5,67.1],[111.7,65.9],[112.7,66.6],[113.3,67.1],[114.1,67.1],[114.3,65.2],[115.1,64.1],[115.8,64.1],[116.0,65.5],[116.8,65.5],[117.2,65.0],[118.8,65.0],[119.0,65.9],[119.8,66.2],[120.2,65.5],[120.6,65.7],[120.8,66.4],[121.5,67.1],[122.1,67.1],[122.7,66.4],[123.1,67.1],[123.5,67.5],[124.3,68.2],[125.1,68.5],[125.5,67.8],[126.3,67.5],[126.8,68.2],[127.0,68.7],[127.8,68.7],[128.0,65.9],[128.6,65.9],[129.0,65.2],[129.6,65.2],[129.8,67.3],[130.4,67.3],[130.6,64.3],[131.2,64.1],[131.6,63.4],[132.4,63.4],[132.5,64.1],[133.3,64.1],[133.5,62.5],[135.3,62.5],[135.7,63.4],[136.1,63.4],[136.5,64.5],[137.8,64.5],[138.4,65.2],[139.0,65.5],[139.6,65.7],[140.4,65.7],[141.0,66.4],[141.4,66.4],[141.6,64.8],[142.2,64.1],[142.8,64.3],[143.1,62.9],[144.3,62.7],[144.7,62.5],[145.1,61.8],[146.3,61.8],[146.5,64.3],[149.0,64.3],[149.2,65.7],[150.0,65.7],[150.2,62.7],[151.0,62.5],[151.4,60.9],[152.0,60.9],[152.6,61.1],[153.0,61.3],[153.5,60.9],[153.9,60.6],[154.3,63.4],[154.9,63.6],[155.5,64.3],[156.1,63.6],[156.5,63.4],[156.9,65.2],[157.3,66.4],[158.5,66.4],[158.8,64.3],[159.8,64.3],[160.4,66.2],[161.0,67.3],[161.4,67.3],[161.6,65.2],[162.4,65.0],[162.8,65.5],[163.2,67.3],[164.0,67.3],[164.3,65.5],[165.1,65.0],[165.3,64.1],[165.9,64.1],[166.1,65.0],[167.1,65.0],[167.5,63.4],[167.9,63.2],[168.3,60.9],[168.9,60.0],[169.8,60.0],[170.2,61.1],[171.0,61.1],[171.4,60.2],[172.2,60.6],[172.8,60.9],[173.5,60.9],[173.7,59.9],[174.1,59.5],[174.9,59.5],[175.3,60.4],[175.7,62.2],[176.1,64.8],[176.9,64.8],[177.1,63.9],[178.3,63.9],[178.6,63.6],[179.6,63.4],[180.0,59.5],[180.6,59.3],[181.0,58.1],[181.6,58.1],[181.8,59.5],[183.0,59.0],[183.4,58.8],[184.0,58.8],[184.1,63.2],[184.7,63.4],[185.1,63.6],[185.7,63.6],[185.9,62.7],[186.5,62.7],[186.9,64.3],[187.5,64.3],[187.9,63.4],[188.5,63.4],[188.7,61.3],[189.2,60.6],[189.6,58.6],[190.0,56.7],[190.4,56.7],[190.8,61.8],[191.2,61.8],[191.8,61.6],[192.0,60.9],[192.6,61.1],[193.0,62.7],[193.2,62.5],[193.4,64.8],[193.6,63.6],[194.3,63.6],[194.5,63.2],[195.1,63.0],[195.5,62.0],[196.3,61.6],[196.7,62.2],[197.3,62.2],[197.5,60.0],[198.7,60.0],[199.5,60.4],[200.2,60.4],[200.6,59.3],[201.4,59.3],[201.8,59.7],[202.4,60.9],[204.2,60.9],[204.6,63.6],[205.3,63.6],[205.5,62.0],[207.1,62.0],[207.3,63.2],[208.3,63.2],[208.5,61.6],[208.9,61.6],[209.3,60.6],[210.0,60.6],[210.4,63.4],[211.2,63.6],[212.0,63.6],[212.8,64.1],[213.2,64.5],[214.0,64.5],[214.4,63.2],[214.9,63.2],[215.3,62.0],[215.9,62.0],[216.3,63.2],[216.9,61.1],[217.5,61.1],[217.7,62.5],[218.3,62.5],[219.1,63.4],[219.7,61.8],[220.3,61.8],[220.7,63.4],[221.3,63.6],[221.6,65.7],[222.4,65.7],[222.8,62.7],[223.2,62.2],[223.6,60.9],[224.4,60.9],[224.6,63.4],[225.2,63.4],[225.8,64.3],[226.4,64.3],[226.6,63.2],[228.1,63.2],[228.5,60.4],[229.4,60.4],[229.8,58.3],[230.4,58.3],[230.7,59.9],[232.1,59.9],[232.5,61.3],[232.9,62.7],[233.5,63.9],[233.9,63.2],[234.5,62.5],[235.1,62.5],[235.5,61.3],[236.0,61.3],[236.4,62.5],[237.2,62.5],[237.4,62.7],[238.0,63.2],[238.4,63.4],[239.0,63.4],[239.4,64.5],[240.2,64.5],[240.4,62.2],[241.0,62.2],[241.3,60.4],[242.1,60.4],[242.3,62.7],[243.1,62.7],[243.3,62.5],[243.7,63.2],[244.1,63.4],[244.9,64.5],[245.7,64.3],[246.1,64.1],[247.3,63.9],[247.6,64.5],[248.0,64.3],[248.4,64.5],[248.8,62.5],[249.6,62.5],[249.8,64.5],[250.4,64.8],[250.8,66.2],[251.2,65.9],[251.6,65.0],[252.3,64.5],[252.7,64.3],[253.3,64.8],[253.7,64.8],[254.3,64.3],[255.3,63.9],[256.9,63.9],[257.2,61.3],[258.0,61.3],[258.4,62.9],[259.2,63.2],[259.8,63.2],[260.2,62.0],[261.0,62.0],[261.8,62.2],[262.4,61.8],[263.1,61.1],[263.9,60.9],[264.3,61.3],[264.7,62.5],[265.3,62.7],[265.7,62.5],[265.9,61.6],[266.5,61.3],[267.5,60.9],[267.9,60.6],[268.4,61.8],[268.6,60.0],[269.2,60.0],[269.8,61.3],[270.6,61.6],[271.6,61.6],[272.4,61.6],[272.7,62.5],[273.3,62.7],[273.7,62.2],[273.9,61.3],[274.5,61.3],[274.7,62.7],[275.3,62.7],[275.5,63.9],[276.1,64.1],[276.5,63.9],[277.1,64.8],[277.3,64.3],[278.4,64.5],[278.6,63.2],[279.8,63.2],[280.2,65.2],[280.8,65.5],[281.8,65.2],[282.2,63.6],[283.0,63.4],[283.7,62.7],[284.3,62.7],[284.9,61.3],[287.1,61.1],[287.3,63.4],[288.0,63.4],[289.4,63.4],[289.6,65.9],[290.8,65.9],[291.2,65.5],[291.6,63.2],[292.2,63.2],[292.4,64.5],[293.1,64.5],[293.5,63.2],[294.3,63.2],[294.7,59.8],[295.5,59.8],[295.7,61.8],[298.0,61.8],[298.2,62.7],[298.8,63.2],[299.4,63.4],[300.0,63.4],[300.4,61.8],[301.2,61.8],[301.6,62.0],[302.4,62.9],[303.0,63.2],[303.6,61.8],[304.3,61.3],[304.9,60.9],[305.5,60.4],[306.1,59.3],[307.9,59.3],[308.5,59.5],[309.0,59.0],[309.4,58.6],[310.4,58.6],[310.6,60.2],[311.4,60.6],[312.2,60.9],[312.8,60.2],[313.4,60.0],[313.8,59.3],[315.0,59.0],[315.7,59.0],[316.3,58.8],[316.9,58.6],[317.3,59.5],[318.1,59.5],[318.5,58.6],[319.3,58.6],[319.5,59.7],[320.0,60.0],[320.2,60.4],[321.0,60.6],[321.8,60.4],[322.2,60.0],[323.2,60.0],[323.4,61.8],[324.2,61.8],[324.6,60.4],[325.5,60.4],[326.3,60.0],[326.5,61.1],[327.5,61.8],[328.3,62.0],[329.1,60.9],[329.5,60.9],[329.7,66.4],[330.5,66.4],[330.7,65.2],[331.6,65.0],[332.2,66.2],[332.8,65.9],[333.6,65.0],[334.0,63.9],[335.0,63.9],[335.4,65.0],[335.8,65.5],[336.2,66.2],[336.7,66.6],[336.9,67.3],[337.5,67.6],[338.1,68.2],[338.5,69.6],[338.9,69.6],[339.5,69.6],[340.1,69.6],[340.5,70.1],[341.2,71.2]];

// ΔHR opt RLX [time s, bpm difference] (right axis)
const dHrOptRlx = [[0,0.1],[1.2,0.05],[3.0,0.0],[5.5,0.05],[7.4,-0.1],[8.2,0.0],[14.0,0.05],[15.5,0.1],[16.1,0.0],[17.6,0.1],[18.0,1.2],[18.3,0.1],[19.4,-0.05],[20.2,0.05],[22.1,0.05],[22.3,1.5],[22.6,0.05],[24.5,0.0],[25.9,0.16],[27.1,0.1],[28.4,-0.05],[31.4,0.0],[31.8,0.16],[33.3,0.1],[35.1,0.1],[35.4,2.4],[35.9,2.4],[36.1,0.05],[37.7,0.0],[40.0,0.05],[44.3,0.0],[50.6,0.05],[50.8,0.4],[51.4,0.4],[51.6,-0.3],[52.2,-0.3],[52.4,0.1],[53.4,0.1],[53.6,-0.16],[54.3,-0.16],[54.5,0.05],[57.5,0.05],[58.1,-0.1],[59.5,0.05],[63.6,0.05],[63.8,0.2],[64.6,0.2],[64.8,0.05],[77.2,0.05],[77.4,-0.1],[78.2,-0.1],[78.6,0.0],[80.5,0.05],[81.1,0.0],[86.6,0.05],[92.0,0.05],[92.3,0.1],[93.0,0.0],[96.2,0.1],[97.6,0.1],[99.4,-0.05],[100.4,0.05],[108.4,0.05],[109.6,-0.1],[112.7,-0.1],[113.0,0.0],[116.6,0.05],[116.8,1.0],[117.0,0.05],[124.3,0.05],[129.8,0.0],[131.0,0.05],[134.5,0.05],[136.3,0.1],[138.8,0.1],[139.2,0.0],[144.3,0.05],[144.5,0.8],[144.7,0.05],[149.6,0.05],[150.2,0.1],[151.2,0.0],[157.3,0.05],[157.7,0.16],[158.8,0.16],[159.0,0.0],[167.5,0.0],[167.9,-0.1],[169.1,-0.1],[169.4,0.1],[171.6,0.1],[175.7,0.16],[176.7,0.16],[177.0,0.05],[184.5,0.05],[184.7,-0.5],[185.1,-0.5],[185.3,0.05],[190.8,0.1],[191.8,0.16],[192.0,0.0],[193.4,0.0],[193.6,-2.7],[193.9,0.0],[198.0,0.05],[208.3,0.05],[208.5,-0.1],[209.7,-0.1],[210.0,0.05],[215.6,0.05],[215.8,0.25],[216.7,0.25],[216.9,0.05],[218.7,-0.1],[219.5,-0.1],[219.8,0.05],[222.3,0.15],[222.6,0.05],[224.4,0.15],[225.2,0.15],[225.4,0.05],[228.5,0.05],[229.2,-0.1],[229.4,0.1],[230.7,0.1],[232.1,0.16],[234.0,0.1],[235.0,0.05],[240.2,-0.1],[240.9,0.05],[259.4,0.05],[259.8,0.2],[261.4,0.05],[266.9,0.05],[267.1,0.16],[271.2,0.16],[271.4,0.05],[285.9,0.05],[297.3,0.1],[297.5,0.05],[302.0,0.05],[302.2,-1.3],[302.6,0.1],[307.9,0.05],[308.1,-0.1],[308.7,-0.1],[309.0,0.05],[323.4,0.1],[324.0,-0.1],[325.2,0.05],[329.1,0.16],[329.5,0.05],[332.0,0.05],[332.2,-0.85],[332.6,-0.05],[336.4,0.0],[336.9,-1.2],[337.3,-0.05],[337.7,-0.4],[338.1,-0.05],[339.3,0.05],[339.5,0.7],[339.7,-0.1],[340.1,-0.3],[340.4,0.9],[340.8,0.9],[341.2,2.0]];

// ΔHR opt PHY [time s, bpm difference] (right axis)
const dHrOptPhy = [[0,-0.26],[0.4,0.58],[1.0,0.53],[1.5,0.79],[1.7,-0.26],[2.3,-0.26],[2.9,-0.53],[3.3,0.53],[3.9,0.42],[4.1,0.0],[4.7,-0.05],[5.3,-0.37],[5.7,0.26],[6.1,0.32],[6.4,0.21],[7.0,0.21],[7.2,0.32],[7.6,0.21],[8.2,0.37],[8.4,-0.63],[8.8,-0.37],[9.4,-0.37],[9.7,0.53],[10.0,0.53],[10.2,-4.37],[10.5,-4.37],[10.6,0.0],[11.0,-0.42],[11.4,-0.42],[11.7,0.47],[12.7,0.47],[12.9,-0.05],[13.5,-0.1],[13.7,-3.26],[14.0,-0.21],[14.3,-0.42],[14.7,0.37],[15.3,0.37],[15.9,0.1],[16.5,-0.1],[17.0,-0.37],[17.4,-0.26],[17.6,0.47],[18.0,0.37],[18.8,0.05],[19.2,-0.74],[20.2,-0.74],[20.4,0.32],[21.0,0.37],[21.4,0.26],[22.0,0.16],[22.3,0.1],[22.9,-0.42],[23.5,-0.42],[23.7,0.37],[24.3,0.32],[24.7,-0.42],[25.9,-0.42],[26.5,0.21],[27.0,0.21],[27.3,0.05],[28.2,-0.21],[28.6,-0.26],[29.0,0.32],[30.0,0.32],[30.4,-0.26],[31.4,-0.32],[31.6,0.05],[32.2,0.16],[33.0,0.26],[33.3,-0.05],[34.5,-0.05],[34.9,0.05],[36.8,0.05],[37.0,4.9],[37.3,4.9],[37.5,-0.58],[37.8,-0.58],[37.9,0.05],[38.2,0.21],[38.4,0.37],[39.2,0.37],[39.4,-0.05],[40.2,-0.1],[40.8,0.21],[41.6,0.16],[41.8,-0.05],[42.4,-0.1],[42.9,-0.1],[43.0,2.0],[43.2,-0.1],[43.6,0.0],[44.0,0.37],[44.3,0.0],[45.1,-0.05],[45.5,-0.32],[46.1,0.42],[46.7,0.42],[47.1,-0.32],[47.2,-2.79],[47.5,-2.79],[47.7,-0.1],[48.3,-0.42],[48.8,-0.42],[49.0,0.37],[49.6,0.37],[49.8,-0.05],[50.6,-0.1],[51.0,0.26],[51.6,0.26],[52.0,-0.05],[52.4,0.37],[52.8,0.32],[53.2,-0.26],[54.3,-0.26],[54.6,2.42],[55.0,0.47],[55.3,0.47],[55.9,0.05],[56.5,0.05],[56.7,-0.16],[57.0,-0.16],[57.2,0.21],[58.0,0.21],[58.1,0.05],[59.1,-0.05],[59.3,-0.32],[59.9,-0.32],[60.1,0.05],[62.1,0.05],[62.3,-0.16],[62.7,-0.16],[62.9,0.68],[63.2,0.21],[63.6,0.05],[63.8,-3.47],[64.2,-3.47],[64.4,-0.1],[64.8,-0.05],[65.2,0.1],[66.0,0.42],[66.2,0.05],[66.8,-0.05],[68.7,-0.05],[69.0,0.47],[69.7,0.47],[69.9,0.0],[70.3,-0.1],[71.1,-0.16],[71.7,-0.1],[71.9,0.42],[72.7,0.42],[72.9,-0.1],[73.5,-0.16],[74.2,-0.21],[75.0,-0.05],[75.4,1.0],[75.6,0.16],[76.0,0.05],[76.8,-0.16],[77.0,-0.21],[78.2,-0.21],[78.6,0.32],[79.2,0.26],[79.5,0.05],[80.1,-0.05],[80.9,-0.1],[81.5,0.21],[81.7,1.16],[81.9,0.21],[82.3,0.05],[82.5,-0.32],[82.9,0.42],[83.1,-0.32],[83.3,0.21],[83.7,0.05],[84.3,-0.1],[86.0,-0.1],[86.4,0.05],[86.6,0.42],[86.8,2.63],[87.0,0.21],[87.6,0.05],[87.8,-3.63],[88.0,0.21],[88.4,0.21],[88.6,-0.42],[89.2,-0.42],[89.4,0.16],[90.3,0.16],[90.7,-0.1],[91.5,-0.1],[92.3,0.05],[92.5,0.32],[92.9,0.32],[93.3,0.05],[93.7,-0.21],[94.5,-0.21],[94.7,0.05],[96.8,-0.16],[97.2,-0.16],[97.8,0.05],[98.6,0.26],[99.2,0.26],[99.4,-0.16],[100.2,-0.1],[100.6,0.05],[100.7,-0.74],[100.9,0.05],[103.3,0.05],[103.7,-0.1],[104.1,0.21],[104.5,0.21],[104.9,0.05],[105.5,-0.16],[106.6,-0.16],[107.2,0.05],[108.0,0.16],[108.6,0.1],[108.8,-0.16],[109.4,-0.16],[109.6,0.05],[110.4,0.16],[111.0,0.16],[111.2,0.05],[112.7,0.05],[112.9,0.21],[113.5,0.21],[113.9,0.05],[114.7,0.05],[114.9,-0.32],[115.7,-0.32],[115.9,0.1],[116.8,0.1],[117.2,0.0],[118.0,-0.05],[118.1,-3.84],[118.3,-0.05],[118.6,0.0],[118.8,0.32],[119.6,0.32],[120.0,-0.05],[120.8,-0.1],[121.7,-0.05],[122.3,0.16],[123.1,0.16],[123.7,-0.16],[124.3,-0.16],[124.7,0.16],[125.3,0.32],[125.7,0.21],[125.9,0.32],[126.3,0.05],[126.8,-0.21],[127.2,-0.16],[127.6,0.21],[128.2,0.05],[129.0,0.0],[129.8,-0.1],[130.1,-5.42],[130.3,-0.1],[130.8,0.21],[131.6,0.21],[132.0,0.0],[134.1,0.0],[134.7,0.21],[135.1,0.05],[136.9,-0.05],[137.8,-0.16],[138.4,-0.16],[138.8,0.05],[140.8,0.05],[141.2,-0.1],[142.0,-0.1],[142.4,0.21],[142.8,0.21],[143.3,0.05],[144.3,-0.16],[144.9,-0.16],[145.3,0.05],[149.4,0.05],[149.8,-0.05],[151.2,-0.05],[151.6,0.21],[152.2,0.16],[152.6,0.05],[153.0,-0.05],[153.5,-0.16],[154.1,0.05],[154.5,0.21],[155.1,0.16],[155.5,-0.05],[155.8,-1.05],[156.1,-0.1],[156.5,0.05],[159.4,0.05],[159.7,-0.58],[160.0,0.05],[160.4,0.1],[162.0,0.1],[162.2,-0.1],[164.0,-0.1],[164.4,0.05],[165.7,0.05],[166.1,0.32],[166.7,0.32],[167.3,0.05],[169.1,0.05],[170.2,-0.1],[171.2,-0.05],[172.0,0.05],[172.4,0.16],[173.0,0.05],[173.3,-0.1],[173.7,-3.84],[174.1,-0.1],[174.5,-0.05],[174.9,1.0],[175.1,0.05],[176.1,0.05],[176.5,-0.16],[177.1,-0.1],[177.7,0.05],[178.1,0.21],[178.6,0.05],[179.4,0.0],[179.8,-0.16],[180.4,-0.16],[180.8,0.05],[182.2,0.05],[182.8,-0.1],[183.4,-0.1],[183.8,0.1],[184.3,0.05],[184.7,-0.05],[185.1,-0.05],[185.7,-0.68],[186.1,-0.63],[186.3,-6.0],[186.6,-6.0],[186.8,0.6],[187.1,0.6],[187.3,-0.53],[187.9,-0.53],[188.3,-0.32],[188.7,0.21],[189.0,0.21],[189.6,0.05],[190.8,0.05],[191.2,-0.21],[191.8,-0.21],[192.2,0.0],[193.6,0.0],[194.0,-0.05],[195.5,0.05],[197.1,0.05],[197.5,-0.16],[197.9,-0.16],[198.5,0.05],[199.1,0.21],[199.3,0.32],[199.7,0.21],[200.2,-0.05],[200.6,-0.95],[200.8,-0.05],[201.4,0.0],[203.0,0.05],[203.8,-0.1],[204.2,-0.1],[205.0,0.1],[205.5,0.21],[205.9,0.05],[207.9,0.05],[208.3,0.21],[208.9,0.21],[209.3,-0.05],[209.9,0.42],[210.0,-0.1],[210.4,-0.16],[210.8,0.05],[216.3,0.05],[216.7,-2.26],[217.0,0.05],[218.3,0.05],[218.7,-0.16],[219.1,0.0],[219.9,0.05],[221.1,0.05],[221.8,0.1],[222.6,0.0],[223.4,0.05],[225.4,0.05],[225.8,-1.89],[226.1,0.05],[227.7,0.05],[228.5,-0.05],[229.2,0.05],[230.7,0.05],[231.1,-0.16],[231.7,-0.16],[232.1,0.05],[233.1,0.05],[233.5,1.63],[233.7,0.05],[235.6,0.05],[236.6,-0.1],[237.4,-0.1],[237.8,0.05],[243.3,0.05],[243.7,-0.1],[244.1,-0.1],[244.5,0.05],[245.7,0.05],[246.1,-0.1],[246.9,-0.1],[247.3,0.05],[248.4,-0.05],[250.8,-0.05],[251.2,0.05],[253.1,0.05],[253.5,0.21],[254.3,0.21],[254.7,0.05],[257.4,0.05],[257.8,-0.05],[258.6,-0.05],[259.4,0.05],[259.8,0.21],[260.2,-0.32],[260.6,0.21],[261.4,0.21],[261.8,0.05],[264.5,0.05],[264.9,-0.05],[266.9,-0.05],[267.7,0.05],[268.0,-0.1],[268.3,-0.79],[268.6,0.05],[269.4,0.21],[269.8,0.16],[270.4,-0.1],[271.2,-0.16],[271.6,0.05],[274.0,0.05],[274.7,-0.1],[275.3,0.05],[282.6,0.05],[283.0,-0.1],[283.4,0.05],[284.9,0.05],[285.3,-0.1],[285.9,0.05],[287.4,0.05],[287.7,0.16],[288.0,0.1],[288.2,-0.16],[288.6,-0.16],[288.8,0.16],[289.2,0.16],[289.4,-0.16],[290.8,-0.1],[291.0,1.16],[291.3,1.16],[291.4,-0.1],[291.6,0.37],[291.8,-0.1],[293.1,-0.1],[293.3,1.32],[293.9,1.32],[294.3,0.4]];

const seriesData = [hrEcgRlx, hrOptRlx, hrEcgPhy, hrOptPhy, dHrOptRlx, dHrOptPhy];
const seriesAxis = [0,0,0,0,1,1];
const seriesWidths = [5,4.5,5,4.5,3.5,3.5];

const FONT = 'Lato, "Liberation Sans", sans-serif';
const TXT = '#2e2e2e';

const chart = echarts.init(document.getElementById('c'), null, {renderer:'canvas'});
chart.setOption({
  animation:false,
  backgroundColor:'#ffffff',
  textStyle:{fontFamily:FONT},
  title:{
    text:chartTitle, left:1700, top:68, textAlign:'center',
    textStyle:{fontFamily:FONT, fontSize:54, fontWeight:'normal', color:'#505050'}
  },
  graphic:[{type:'rect', shape:{x:32,y:31,width:3364,height:1164}, style:{fill:'none', stroke:'#d9d9d9', lineWidth:3}, silent:true, z:-1}],
  legend:{
    orient:'vertical', right:278, top:80,
    padding:[19,22,22,19], itemGap:43, itemWidth:86, itemHeight:5,
    icon:'rect',
    backgroundColor:'#ffffff',
    shadowBlur:12, shadowColor:'rgba(0,0,0,0.45)', shadowOffsetX:6, shadowOffsetY:6,
    textStyle:{fontFamily:FONT, fontSize:33, fontWeight:'bold', color:'#262626'},
    data:seriesNames.map((n,i)=>({name:n, icon:'rect', itemStyle:{color:seriesColors[i]}}))
  },
  grid:{left:273, right:247, top:194, bottom:257, show:true, backgroundColor:'#f2f2f2', borderWidth:0, containLabel:false},
  xAxis:{
    type:'value', min:xAxisTicks.min, max:xAxisTicks.max, interval:xAxisTicks.interval,
    name:'Time [s]', nameLocation:'middle', nameGap:142,
    nameTextStyle:{fontFamily:FONT, fontSize:36, fontWeight:'bold', color:TXT},
    axisLine:{show:false}, axisTick:{show:false}, splitLine:{show:false},
    axisLabel:{rotate:90, margin:24, fontSize:31, color:TXT, fontFamily:FONT, showMaxLabel:false, showMinLabel:true,
      formatter:v=>String(+(+v).toFixed(1))}
  },
  yAxis:[{
    type:'value', position:'left', min:leftAxisTicks.min, max:leftAxisTicks.max, interval:leftAxisTicks.interval,
    name:'HR [bpm]', nameLocation:'middle', nameGap:186, nameRotate:90,
    nameTextStyle:{fontFamily:FONT, fontSize:37, fontWeight:'bold', color:TXT},
    axisLine:{show:false}, axisTick:{show:false},
    splitLine:{show:true, lineStyle:{color:'#d9d9d9', width:3}},
    axisLabel:{margin:36, fontSize:35, color:TXT, fontFamily:FONT, formatter:v=>v.toFixed(4)}
  },{
    type:'value', position:'right', min:rightAxisTicks.min, max:rightAxisTicks.max, interval:rightAxisTicks.interval,
    name:'\u0394HR [bpm]', nameLocation:'middle', nameGap:172, nameRotate:90,
    nameTextStyle:{fontFamily:FONT, fontSize:37, fontWeight:'bold', color:TXT},
    axisLine:{show:false}, axisTick:{show:false}, splitLine:{show:false},
    axisLabel:{margin:38, fontSize:35, color:TXT, fontFamily:FONT, formatter:v=>v.toFixed(5)}
  }],
  series: seriesNames.map((n,i)=>({
    name:n, type:'line', yAxisIndex:seriesAxis[i], data:seriesData[i],
    symbol:'none', showSymbol:false, smooth:false, z:2+i,
    lineStyle:{color:seriesColors[i], width:seriesWidths[i], join:'round'},
    itemStyle:{color:seriesColors[i]}
  }))
});
</script></body></html>
